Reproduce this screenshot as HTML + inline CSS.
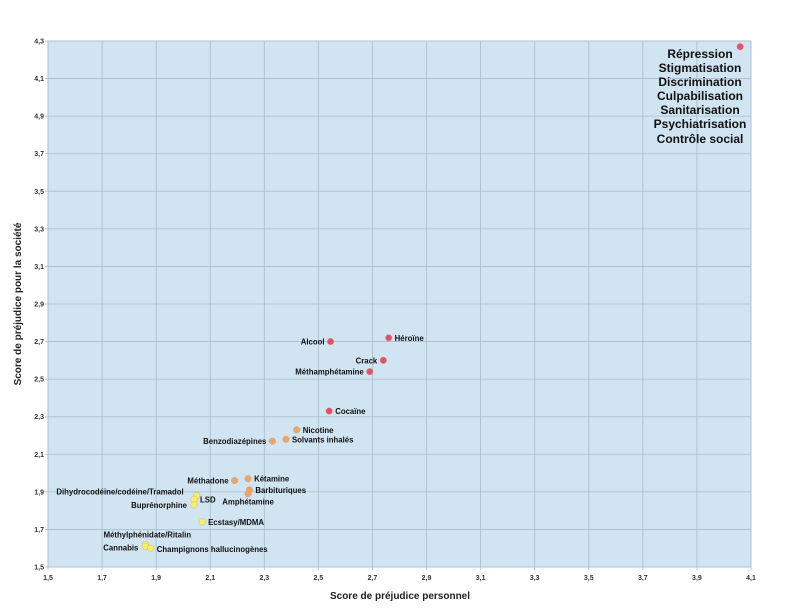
<!DOCTYPE html>
<html><head><meta charset="utf-8"><style>
body{margin:0;background:#fff;}
svg{display:block;font-family:"Liberation Sans","DejaVu Sans",sans-serif;}
</style></head><body>
<svg id="chart" width="800" height="611">
<rect x="48" y="41" width="703" height="526" fill="#d0e4f1" stroke="#c8d2da"/>
<g id="grid"></g><g id="ticks"></g><g id="points"></g>
<text x="400" y="599" text-anchor="middle" font-size="10" font-weight="bold" fill="#222">Score de préjudice personnel</text>
<text transform="translate(21,304) rotate(-90)" text-anchor="middle" font-size="10" font-weight="bold" fill="#222">Score de préjudice pour la société</text>
<g font-size="12" font-weight="bold" fill="#111" text-anchor="middle">
<text x="700" y="58">Répression</text><text x="700" y="72">Stigmatisation</text><text x="700" y="86">Discrimination</text><text x="700" y="100">Culpabilisation</text><text x="700" y="114">Sanitarisation</text><text x="700" y="128">Psychiatrisation</text><text x="700" y="143">Contrôle social</text>
</g>
</svg>
<script>
const names=["Répression","Héroïne","Alcool","Crack","Méthamphétamine","Cocaïne","Nicotine","Solvants inhalés","Benzodiazépines","Kétamine","Méthadone","Barbituriques","Amphétamine","Dihydrocodéine/codéine/Tramadol","LSD","Buprénorphine","Ecstasy/MDMA","Méthylphénidate/Ritalin","Cannabis","Champignons hallucinogènes"];
const personal=[4.06,2.76,2.545,2.74,2.69,2.54,2.42,2.38,2.33,2.24,2.19,2.245,2.24,2.05,2.04,2.04,2.07,1.86,1.86,1.88];
const societal=[4.27,2.72,2.70,2.60,2.54,2.33,2.23,2.18,2.17,1.97,1.96,1.91,1.89,1.88,1.86,1.83,1.74,1.62,1.61,1.60];
const groups=["r","r","r","r","r","r","o","o","o","o","o","o","o","y","y","y","y","y","y","y"];
const xTicks=["1,5","1,7","1,9","2,1","2,3","2,5","2,7","2,9","3,1","3,3","3,5","3,7","3,9","4,1"];
const yTicks=["1,5","1,7","1,9","2,1","2,3","2,5","2,7","2,9","3,1","3,3","3,5","3,7","4,9","4,1","4,3"];
const labelSide=["none","r","l","l","l","r","r","r","l","r","l","r","m","l","r","l","r","m","l","r"];
const labelDx=[0,6,-6,-6,-6,6,6,6,-6,6,-6,6,0,-13,6,-7,6,2,-7,6];
const labelDy=[0,0,0,0,0,0,0,0,0,0,0,0,8,-4,0,0,0,-10,1,1];
const X=v=>48+(v-1.5)*(703/2.6), Y=v=>567-(v-1.5)*(526/2.8);
const NS="http://www.w3.org/2000/svg";
const mk=(t,a,p)=>{const e=document.createElementNS(NS,t);for(const k in a)e.setAttribute(k,a[k]);p.appendChild(e);return e;};
const G=document.getElementById('grid'),T=document.getElementById('ticks'),P=document.getElementById('points');
xTicks.forEach((s,i)=>{const x=X(1.5+0.2*i);
 const l=mk('line',{x1:x,x2:x,y1:41,y2:570,stroke:'#a8bccb','stroke-width':0.8},G);
 
 
 const t=mk('text',{x:x,y:580,'text-anchor':'middle','font-size':7,'font-weight':'bold',fill:'#333'},T);t.textContent=s;
 
 });
yTicks.forEach((s,i)=>{const y=Y(1.5+0.2*i);
 const l=mk('line',{x1:45,x2:751,y1:y,y2:y,stroke:'#a8bccb','stroke-width':0.8},G);
 
 
 const t=mk('text',{x:44,y:y+2.5,'text-anchor':'end','font-size':7,'font-weight':'bold',fill:'#333'},T);t.textContent=s;
 
 });
const col={r:'#e2506c',o:'#eba46a',y:'#f1f067'};
const anc={r:'start',l:'end',m:'middle'};
names.forEach((n,i)=>{const x=X(personal[i]),y=Y(societal[i]);
 const c=mk('circle',{cx:x,cy:y,r:3.3,fill:col[groups[i]],stroke:'#d8a070','stroke-width':0.4},P);
 
 
 if(labelSide[i]==='none')return;
 const t=mk('text',{x:x+labelDx[i],y:y+3+labelDy[i],'text-anchor':anc[labelSide[i]],'font-size':7.8,'font-weight':'bold',fill:'#111'},P);
 t.textContent=n;
 
 });
</script>
</body></html>
